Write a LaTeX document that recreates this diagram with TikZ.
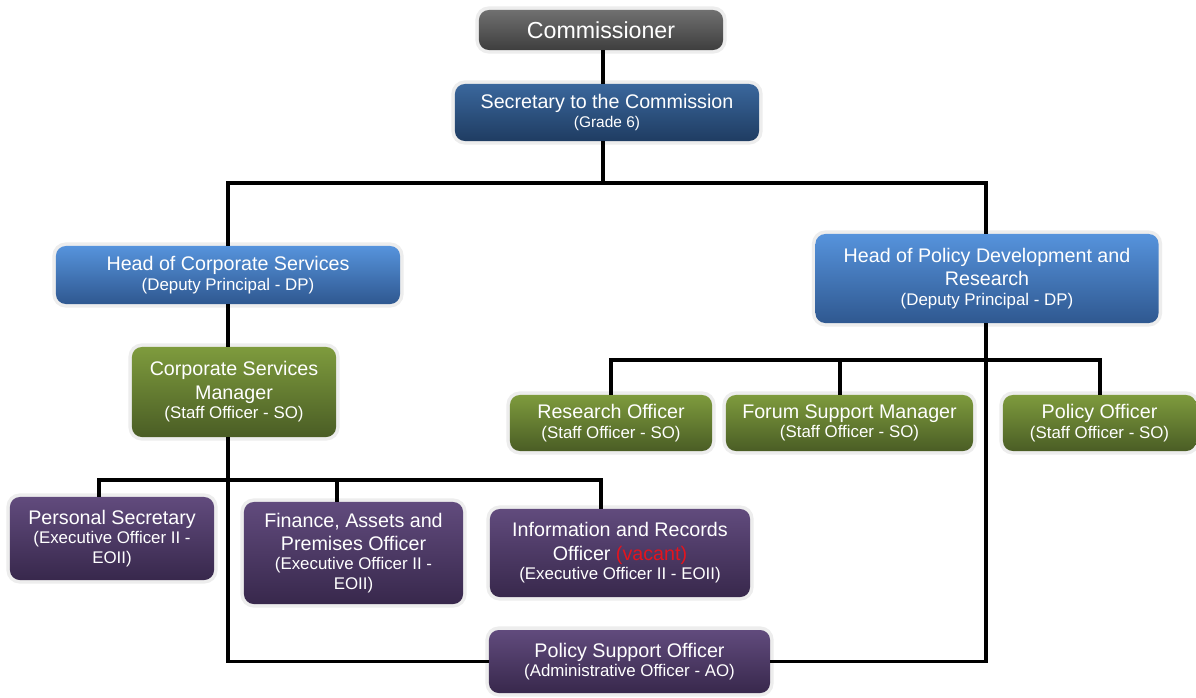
\documentclass[tikz,border=0pt]{standalone}
\usepackage{fontspec}
\setmainfont{Liberation Sans}
\usetikzlibrary{positioning}
\definecolor{OrgGreyTop}{HTML}{707070}
\definecolor{OrgGreyBot}{HTML}{3E3E3E}
\definecolor{OrgNavyTop}{HTML}{3A679C}
\definecolor{OrgNavyBot}{HTML}{1F3C62}
\definecolor{OrgBlueTop}{HTML}{5693DC}
\definecolor{OrgBlueBot}{HTML}{2F5890}
\definecolor{OrgGreenTop}{HTML}{7E9B3D}
\definecolor{OrgGreenBot}{HTML}{4A5D25}
\definecolor{OrgPurpleTop}{HTML}{614B7D}
\definecolor{OrgPurpleBot}{HTML}{38284C}
\definecolor{OrgVacant}{HTML}{E3141E}
\newcommand{\grade}[1]{\\[-2.5pt]{\fontsize{12}{14}\selectfont #1}}

\begin{document}
\begin{tikzpicture}[x=0.025cm,y=-0.025cm,
    orgbox/.style={rounded corners=7pt,text=white,align=center,inner sep=2pt,
      font=\fontsize{14}{16.5}\selectfont,
      preaction={draw=black!7,line width=5pt}},
    greybox/.style={orgbox,top color=OrgGreyTop,bottom color=OrgGreyBot},
    navybox/.style={orgbox,top color=OrgNavyTop,bottom color=OrgNavyBot},
    bluebox/.style={orgbox,top color=OrgBlueTop,bottom color=OrgBlueBot},
    greenbox/.style={orgbox,top color=OrgGreenTop,bottom color=OrgGreenBot},
    purplebox/.style={orgbox,top color=OrgPurpleTop,bottom color=OrgPurpleBot},
    link/.style={draw=black,line width=2.2pt}
  ]
    \path[fill=white,use as bounding box] (0,0) rectangle (1196,697);

    % top of the chart
    \node[greybox,minimum width=6.1cm,minimum height=1.0cm,font=\fontsize{16.5}{18}\selectfont] (comm) at (601,30) {Commissioner};
    \node[navybox,minimum width=7.6cm,minimum height=1.425cm] (sec) at (607,112.5) {Secretary to the Commission\\[-3pt]{\fontsize{11}{13}\selectfont (Grade 6)}};

    % deputy principals
    \node[bluebox,minimum width=8.6cm,minimum height=1.45cm] (hcs) at (228,275) {Head of Corporate Services\grade{(Deputy Principal - DP)}};
    \node[bluebox,minimum width=8.575cm,minimum height=2.225cm] (hpd) at (987,278.5) {Head of Policy Development and\\Research\grade{(Deputy Principal - DP)}};

    % staff officers
    \node[greenbox,minimum width=5.1cm,minimum height=2.25cm] (csm) at (234,392) {Corporate Services\\Manager\grade{(Staff Officer - SO)}};
    \node[greenbox,minimum width=5.05cm,minimum height=1.4cm] (ro) at (611,423) {Research Officer\grade{(Staff Officer - SO)}};
    \node[greenbox,minimum width=6.175cm,minimum height=1.4cm] (fsm) at (849.5,423) {Forum Support Manager\grade{(Staff Officer - SO)}};
    \node[greenbox,minimum width=4.825cm,minimum height=1.4cm] (po) at (1099.5,423) {Policy Officer\grade{(Staff Officer - SO)}};

    % executive and administrative officers
    \node[purplebox,minimum width=5.1cm,minimum height=2.075cm] (ps) at (112,538.5) {Personal Secretary\grade{(Executive Officer II -}\grade{EOII)}};
    \node[purplebox,minimum width=5.475cm,minimum height=2.55cm] (fap) at (353.5,553) {Finance, Assets and\\Premises Officer\grade{(Executive Officer II -}\grade{EOII)}};
    \node[purplebox,minimum width=6.5cm,minimum height=2.2cm] (iro) at (620,553) {Information and Records\\Officer \textcolor{OrgVacant}{(vacant)}\grade{(Executive Officer II - EOII)}};
    \node[purplebox,minimum width=7.025cm,minimum height=1.575cm] (pso) at (629.5,661.5) {Policy Support Officer\grade{(Administrative Officer - AO)}};

    % junctions
    \coordinate (topbar) at (603,183);
    \coordinate (csmbar) at (228,480);
    \coordinate (psdrop) at (99,480);
    \coordinate (fapdrop) at (337,480);
    \coordinate (irodrop) at (601,480);
    \coordinate (hpdbar) at (986,360);
    \coordinate (rodrop) at (611,360);
    \coordinate (fsmdrop) at (840,360);
    \coordinate (podrop) at (1100,360);

    \draw[link] (comm.south -| topbar) -- (sec.north -| topbar);
    \draw[link] (sec.south -| topbar) -- (topbar);
    \draw[link] (hcs.north) |- (topbar) -| (hpd.north -| hpdbar);
    \draw[link] (hcs.south) -- (hcs.south |- csm.north);
    \draw[link] (csmbar |- csm.south) |- (pso.west);
    \draw[link] (psdrop |- ps.north) |- (irodrop) -- (irodrop |- iro.north);
    \draw[link] (fapdrop) -- (fapdrop |- fap.north);
    \draw[link] (hpdbar |- hpd.south) |- (pso.east);
    \draw[link] (rodrop |- ro.north) |- (podrop) -- (podrop |- po.north);
    \draw[link] (fsmdrop) -- (fsmdrop |- fsm.north);
  \end{tikzpicture}
\end{document}
